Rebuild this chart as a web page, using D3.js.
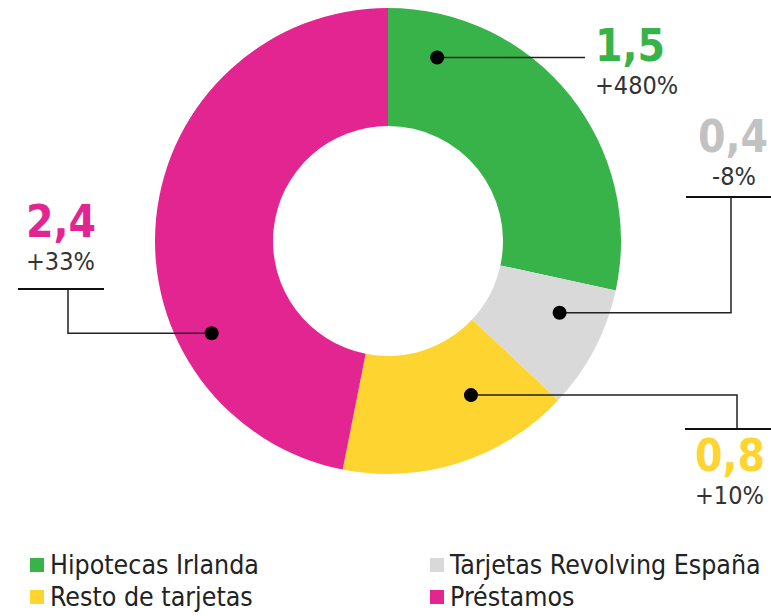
<!DOCTYPE html>
<html>
<head>
<meta charset="utf-8">
<script src="https://cdn.jsdelivr.net/npm/d3@7"></script>
<style>
body { margin: 0; background: #fff; }
text { font-family: "Liberation Sans Narrow", "DejaVu Sans Condensed", "Roboto", sans-serif; }
</style>
</head>
<body>
<script>
// data (slice sizes, labels as printed)
var categories = ["Hipotecas Irlanda", "Tarjetas Revolving España", "Resto de tarjetas", "Préstamos"];
var values = [1.46, 0.44, 0.83, 2.41];
var valueLabels = ["1,5", "0,4", "0,8", "2,4"];
var changeLabels = ["+480%", "-8%", "+10%", "+33%"];
var colors = ["#37b34a", "#d9d9d9", "#fed530", "#e32592"];

var width = 771, height = 616;
var cx = 388, cy = 241, outerR = 233, innerR = 115;

var svg = d3.select("body").append("svg")
	.attr("width", width)
	.attr("height", height);

var g = svg.append("g").attr("transform", "translate(" + cx + "," + cy + ")");

var pie = d3.pie().sort(null).value(function(d){ return d; });
var arc = d3.arc().innerRadius(innerR).outerRadius(outerR);

var arcs = pie(values);

g.selectAll(".slice")
	.data(arcs)
	.enter()
	.append("path")
	.attr("class", "slice")
	.attr("d", arc)
	.style("fill", function(d, i){ return colors[i]; });

// annotation layout: dot angle (deg from top), dot radius, elbow path, label pos
var ann = [
	{ ang: 15, r: 190, path: function(p){ return [[p[0], p[1]], [585, p[1]]]; },
	  tx: 595, ty: 61, anchor: "start" },
	{ ang: 112.7, r: 186, path: function(p){ return [[p[0], p[1]], [731, p[1]], [731, 197]]; },
	  tx: 768, ty: 152, anchor: "end", bar: [686, 771, 197], cx2: 734 },
	{ ang: 151.7, r: 175, path: function(p){ return [[p[0], p[1]], [737, p[1]], [737, 429]]; },
	  tx: 695, ty: 471, anchor: "start", bar: [685, 771, 429] },
	{ ang: 242.4, r: 199, path: function(p){ return [[p[0], p[1]], [68, p[1]], [68, 289]]; },
	  tx: 26, ty: 237, anchor: "start", bar: [18, 104, 289] }
];

var line = d3.line();

ann.forEach(function(a, i){
	var t = a.ang * Math.PI / 180;
	var p = [cx + a.r * Math.sin(t), cy - a.r * Math.cos(t)];

	svg.append("path")
		.attr("d", line(a.path(p)))
		.style("fill", "none")
		.style("stroke", "#222")
		.style("stroke-width", 1.5);

	if (a.bar) {
		svg.append("line")
			.attr("x1", a.bar[0]).attr("x2", a.bar[1])
			.attr("y1", a.bar[2]).attr("y2", a.bar[2])
			.style("stroke", "#111")
			.style("stroke-width", 2);
	}

	svg.append("circle")
		.attr("cx", p[0]).attr("cy", p[1])
		.attr("r", 7)
		.style("fill", "#000");

	svg.append("text")
		.attr("x", a.tx).attr("y", a.ty)
		.attr("text-anchor", a.anchor)
		.style("font-size", "44px")
		.style("font-weight", "bold")
		.style("fill", i == 1 ? "#c2c2c2" : colors[i])
		.text(valueLabels[i]);

	svg.append("text")
		.attr("x", a.anchor == "end" ? a.cx2 : a.tx)
		.attr("y", a.ty + 33)
		.attr("text-anchor", a.anchor == "end" ? "middle" : "start")
		.style("font-size", "25px")
		.style("fill", "#333")
		.text(changeLabels[i]);
});

// legend
var legend = svg.selectAll(".legend")
	.data(categories)
	.enter()
	.append("g")
	.attr("class", "legend")
	.attr("transform", function(d, i){
		return "translate(" + (i % 2 ? 430 : 30) + "," + (i < 2 ? 558 : 590) + ")";
	});

legend.append("rect")
	.attr("width", 14).attr("height", 14)
	.style("fill", function(d, i){ return colors[i]; });

legend.append("text")
	.attr("x", 20).attr("y", 16)
	.style("font-size", "26.5px")
	.style("fill", "#222")
	.text(function(d){ return d; });
</script>
</body>
</html>
